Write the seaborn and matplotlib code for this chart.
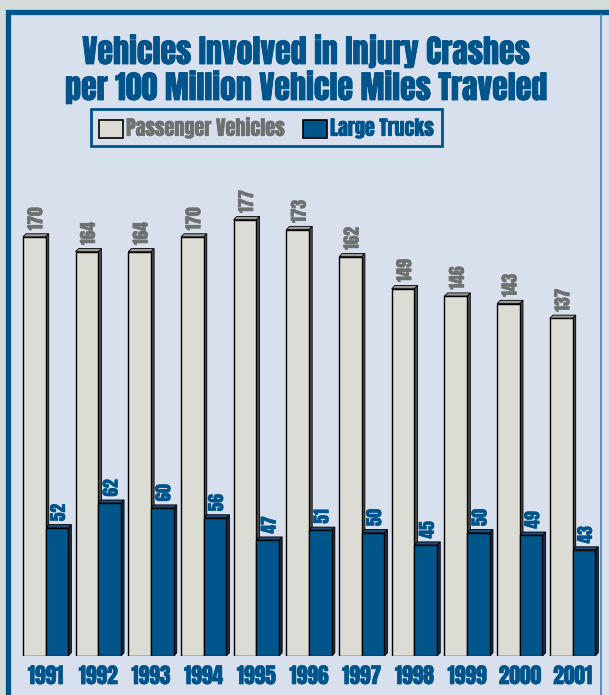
import matplotlib
matplotlib.use("Agg")
import matplotlib.pyplot as plt
import matplotlib.patheffects as pe
import numpy as np
import pandas as pd
import seaborn as sns
from matplotlib.patches import Rectangle, Polygon
from matplotlib.lines import Line2D

# data
years = ['1991', '1992', '1993', '1994', '1995', '1996', '1997', '1998', '1999', '2000', '2001']
passenger = [170, 164, 164, 170, 177, 173, 162, 149, 146, 143, 137]
trucks = [52, 62, 60, 56, 47, 51, 50, 45, 50, 49, 43]
series = ['Passenger Vehicles', 'Large Trucks']

# colours
blue = '#00548c'
grey_txt = '#6d716f'
pv_face = '#dcdcd5'
lt_face = '#00558b'
panel = '#d8dfed'
outer = '#d3dcd6'

sns.set_theme(style="white")
font = ['Anton', 'DejaVu Sans']
plt.rcParams['font.family'] = font


def heavy(color, lw=0.5):
    # thicken the glyphs a little, the original face is heavier than Anton
    return [pe.withStroke(linewidth=lw, foreground=color)]


df = pd.DataFrame({
    'year': years * 2,
    'value': passenger + trucks,
    'series': [series[0]] * len(years) + [series[1]] * len(years),
})

W, H = 609, 695
fig = plt.figure(figsize=(W / 100, H / 100), dpi=100)
fig.patch.set_facecolor(outer)

# panel with thick blue frame
fig.patches.append(Rectangle((7.5 / W, -0.05), 1.1, 1 - 12 / H + 0.05, transform=fig.transFigure,
                             facecolor=panel, edgecolor=blue, linewidth=3.8, zorder=0))
fig.lines.append(Line2D([601 / W, 601 / W], [0, 1 - 14 / H], transform=fig.transFigure,
                        color='#4a7fb0', linewidth=1.2, zorder=0.5))

# axes: baseline at y=656px, 2.465 px per unit, group pitch 52.7px
base = 656
ppu = 2.465
pitch = 52.7
x0 = 45.5
ax = fig.add_axes([0, (H - base) / H, 1, base / H])
ax.set_zorder(2)
ax.set_facecolor('none')

sns.barplot(data=df, x='year', y='value', hue='series', palette=[pv_face, lt_face],
            width=0.86, edgecolor='black', linewidth=1.0, saturation=1,
            ax=ax, legend=False, zorder=3)
ax.set_xlim(-x0 / pitch, (W - x0) / pitch)
ax.set_ylim(0, base / ppu)

# fake 3d depth
dx = 3.2 / pitch
dy = 3.2 / ppu
bars = [p for p in ax.patches if isinstance(p, Rectangle)]
for i, b in enumerate(bars):
    x, w, h = b.get_x(), b.get_width(), b.get_height()
    is_pv = i < len(years)
    top_c = '#9a9a95' if is_pv else '#1f4c78'
    side_c = '#4d4d4a' if is_pv else '#1b2c44'
    ax.add_patch(Polygon([(x + w, 0), (x + w + dx, dy), (x + w + dx, h + dy), (x + w, h)],
                         closed=True, facecolor=side_c, edgecolor='black', linewidth=0.6, zorder=2))
    ax.add_patch(Polygon([(x, h), (x + dx, h + dy), (x + w + dx, h + dy), (x + w, h)],
                         closed=True, facecolor=top_c, edgecolor='black', linewidth=0.6, zorder=2))
    c = grey_txt if is_pv else blue
    ax.text(x + w / 2 + dx / 2, h + dy + 1.4, f'{int(h)}', rotation=90, ha='center', va='bottom',
            fontsize=12.5, color=c, zorder=4, path_effects=heavy(c, 0.3))

ax.set_xticks(range(len(years)))
ax.set_xticklabels(years, fontsize=15.5, color=blue)
for t in ax.get_xticklabels():
    t.set_path_effects(heavy(blue, 0.4))
ax.tick_params(axis='x', length=0, pad=6.5)
ax.set_yticks([])
ax.set_xlabel('')
ax.set_ylabel('')
for s in ax.spines.values():
    s.set_visible(False)

# title
fig.text(307 / W, 1 - 64 / H, 'Vehicles Involved in Injury Crashes', ha='center', va='baseline',
         fontsize=23, color=blue, path_effects=heavy(blue, 0.6))
fig.text(307 / W, 1 - 100 / H, 'per 100 Million Vehicle Miles Traveled', ha='center', va='baseline',
         fontsize=23, color=blue, path_effects=heavy(blue, 0.6))

# legend
handles = [Rectangle((0, 0), 1, 1, facecolor=pv_face, edgecolor='black', linewidth=1.2),
           Rectangle((0, 0), 1, 1, facecolor=lt_face, edgecolor='black', linewidth=1.2)]
leg = fig.legend(handles, series, loc='center', bbox_to_anchor=(266.5 / W, 1 - 127.5 / H), ncol=2,
                 frameon=True, fancybox=False, edgecolor=blue, facecolor=panel, framealpha=1,
                 prop={'family': font, 'size': 14.5},
                 handlelength=1.2, handleheight=1.0, handletextpad=0.15, columnspacing=0.9,
                 borderpad=0.4, borderaxespad=0)
leg.get_frame().set_linewidth(2)
for t, c in zip(leg.get_texts(), [grey_txt, blue]):
    t.set_color(c)
    t.set_path_effects(heavy(c, 0.4))

fig.savefig('out.png', dpi=100, facecolor=fig.get_facecolor())
